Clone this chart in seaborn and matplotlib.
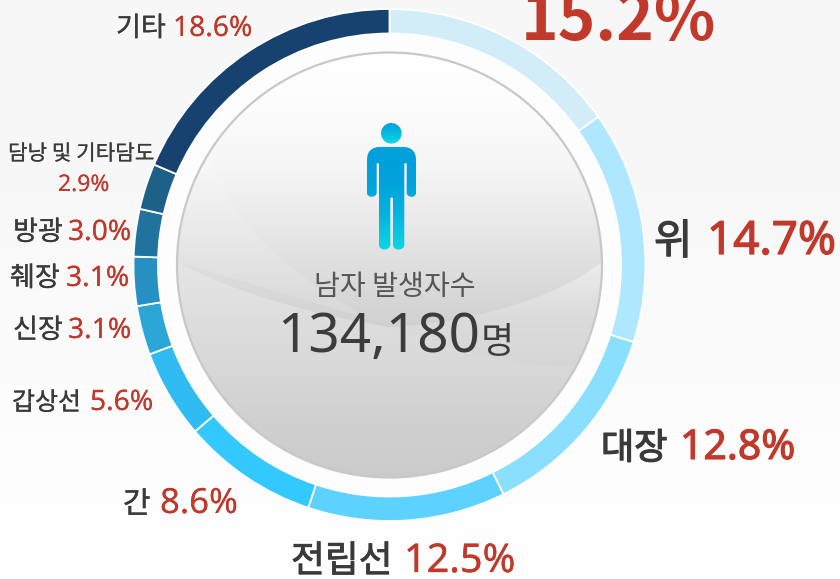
import numpy as np
import seaborn as sns
import matplotlib.pyplot as plt
import matplotlib.patheffects as pe
from matplotlib.patches import Circle, PathPatch
from matplotlib.path import Path

sns.set_theme(style="white")
plt.rcParams['font.family'] = ['Noto Sans CJK KR', 'DejaVu Sans']

# 남자 암 발생 비율 (12시 방향부터 시계 방향)
cancer_names = ['위암', '위', '대장', '전립선', '간', '갑상선', '신장', '췌장', '방광', '담낭 및 기타담도', '기타']
cancer_shares = [15.2, 14.7, 12.8, 12.5, 8.6, 5.6, 3.1, 3.1, 3.0, 2.9, 18.6]
ring_colors = ['#d2edf8', '#afe7fe', '#8adfff', '#5dd2fe', '#33c8fe', '#30bcf3',
               '#2ba6d6', '#2590c1', '#21739f', '#1d6088', '#17426f']
center_title = '남자 발생자수'
center_number = '134,180'
center_unit = '명'

H = 579
CX, CY = 389.5, H - 265
R_DISC = 212.5


def py(y):
    return H - y


def bezier(p0, p1, p2, p3, n=60):
    t = np.linspace(0, 1, n)[:, None]
    p0, p1, p2, p3 = [np.array([p[0], py(p[1])], dtype=float) for p in (p0, p1, p2, p3)]
    return (1 - t) ** 3 * p0 + 3 * (1 - t) ** 2 * t * p1 + 3 * (1 - t) * t ** 2 * p2 + t ** 3 * p3


def disc_arc(x0, y0, x1, y1, clockwise, n=80):
    # 원판 가장자리를 따라가는 점들
    a0 = np.arctan2(py(y0) - CY, x0 - CX)
    a1 = np.arctan2(py(y1) - CY, x1 - CX)
    if clockwise and a1 > a0:
        a1 -= 2 * np.pi
    if not clockwise and a1 < a0:
        a1 += 2 * np.pi
    a = np.linspace(a0, a1, n)
    return np.column_stack([CX + R_DISC * np.cos(a), CY + R_DISC * np.sin(a)])


fig = plt.figure(figsize=(8.4, 5.79), dpi=100)
ax = fig.add_axes([0, 0, 1, 1])
ax.set_axis_off()

# 배경
bg_cmap = sns.blend_palette(['#f7f7f7', '#f7f7f7', '#fafafa', '#fdfdfd', '#ffffff'], as_cmap=True)
ax.imshow(np.linspace(0, 1, 256).reshape(-1, 1), cmap=bg_cmap, extent=(0, 840, 0, H),
          aspect='auto', zorder=0)
ax.add_patch(Circle((CX, CY), 232, facecolor='#fdfdfd', edgecolor='none', zorder=1))

# 도넛 링
ax.pie(cancer_shares, colors=ring_colors, startangle=90, counterclock=False,
       center=(CX, CY), radius=256, frame=True,
       wedgeprops={'width': 24.5, 'edgecolor': 'white', 'linewidth': 1.3, 'zorder': 2})

# 가운데 원판 그라데이션
disc = Circle((CX, CY), R_DISC, facecolor='#cfcfcf', edgecolor='none', zorder=2.5)
ax.add_patch(disc)
disc_cmap = sns.blend_palette(['#ffffff', '#fcfcfc', '#f5f5f5', '#e8e8e8', '#dadada', '#cccccc'], as_cmap=True)
grad = ax.imshow(np.linspace(0, 1, 256).reshape(-1, 1), cmap=disc_cmap,
                 extent=(CX - 213, CX + 213, py(345), py(52)), aspect='auto', zorder=3)
grad.set_clip_path(disc)

# 왼쪽 위 밝은 호
left_pts = np.vstack([bezier((208, 150), (225, 215), (280, 270), (372, 320)),
                      disc_arc(177.5, 262, 208, 150, True)])
ax.add_patch(PathPatch(Path(np.vstack([left_pts, left_pts[:1]]), closed=True), facecolor='#ffffff',
                       alpha=0.12, edgecolor='none', zorder=3.1))


def layer(points, colors, z):
    # 곡선 아래쪽 면을 세로 그라데이션으로 채운다
    patch = PathPatch(Path(np.vstack([points, points[:1]]), closed=True), facecolor='none', edgecolor='none')
    ax.add_patch(patch)
    im = ax.imshow(np.linspace(0, 1, 256).reshape(-1, 1), cmap=sns.blend_palette(colors, as_cmap=True),
                   extent=(CX - 213, CX + 213, py(478), py(262)), aspect='auto', zorder=z)
    im.set_clip_path(patch)


right_pts = np.vstack([bezier((602, 262), (560, 295), (480, 322), (390, 327)),
                       [[370, py(330)], [370, py(470)]],
                       disc_arc(389.5, 477.5, 602, 262, False)])
layer(right_pts, ['#ececec', '#dcdcdc', '#d5d5d5', '#d0d0d0', '#cccccc'], 3.2)

lower_pts = np.vstack([bezier((177.5, 262), (240, 297), (340, 320), (390, 327)),
                       bezier((390, 327), (425, 333), (500, 372), (577, 365)),
                       disc_arc(577, 365, 177.5, 262, True)])
layer(lower_pts, ['#e6e6e6', '#dedede', '#d8d8d8', '#d0d0d0', '#cbcbcb'], 3.3)

ax.add_patch(Circle((CX, CY), R_DISC, facecolor='none', edgecolor='#c8c8c8', linewidth=1.6, zorder=4))

# 사람 아이콘
head_patch = Circle((391.3, py(133.3)), 10.3, facecolor='none', edgecolor='none')
ax.add_patch(head_patch)
head = ax.imshow(np.linspace(0, 1, 64).reshape(-1, 1),
                 cmap=sns.blend_palette(['#00a0dc', '#0fd8e4'], as_cmap=True),
                 extent=(380, 402, py(144), py(123)), aspect='auto', zorder=5)
head.set_clip_path(head_patch)

body = Path([(367, py(160)), (367, py(150)), (373, py(147)), (381, py(146.7)),
             (402, py(146.7)), (410, py(147)), (416, py(150)), (416, py(160)),
             (416, py(193)), (416, py(198)), (407, py(198)), (406.7, py(193)),
             (406.7, py(163.3)), (404.3, py(163.3)), (404.3, py(245)), (404, py(251)), (393, py(251)), (393, py(245)),
             (393, py(197.7)), (390.3, py(197.7)), (390.3, py(245)), (390, py(251)), (379, py(251)), (379, py(245)),
             (379, py(163.3)), (376.7, py(163.3)), (376.7, py(193)), (376, py(198)), (367, py(198)), (367, py(193)),
             (367, py(160))],
            [Path.MOVETO, Path.CURVE4, Path.CURVE4, Path.CURVE4,
             Path.LINETO, Path.CURVE4, Path.CURVE4, Path.CURVE4,
             Path.LINETO, Path.CURVE4, Path.CURVE4, Path.CURVE4,
             Path.LINETO, Path.LINETO, Path.LINETO, Path.CURVE4, Path.CURVE4, Path.CURVE4,
             Path.LINETO, Path.LINETO, Path.LINETO, Path.CURVE4, Path.CURVE4, Path.CURVE4,
             Path.LINETO, Path.LINETO, Path.LINETO, Path.CURVE4, Path.CURVE4, Path.CURVE4,
             Path.LINETO])
body_patch = PathPatch(body, facecolor='none', edgecolor='none')
ax.add_patch(body_patch)
icon = ax.imshow(np.linspace(0, 1, 128).reshape(-1, 1),
                 cmap=sns.blend_palette(['#00a0dc', '#00a2dc', '#06b4de', '#0ed6e2'], as_cmap=True),
                 extent=(360, 420, py(250), py(147)), aspect='auto', zorder=5)
icon.set_clip_path(body_patch)

# 가운데 글자
ax.text(394.5, py(295), center_title, fontsize=20.3, color='#555555', ha='center', va='baseline', zorder=6)
ax.text(378.5, py(352), center_number, fontsize=39.5, color='#3c3c3c', ha='center', va='baseline', zorder=6,
        family='Noto Sans')
ax.text(497, py(353), center_unit, fontsize=26, color='#3c3c3c', ha='center', va='baseline', zorder=6)

# 라벨: 이름과 퍼센트를 따로 배치 (마지막 값은 글자 두께 보정)
NAME_C, PCT_C = '#3a3a3a', '#c0392b'
name_labels = [(654, 254, cancer_names[1], 30, 0.9),
               (601, 459, cancer_names[2], 26, 0.9),
               (291, 572, cancer_names[3], 26.5, 0.6),
               (123, 513, cancer_names[4], 21.5, 0.3),
               (12, 410, cancer_names[5], 18, 0.2),
               (13, 338, cancer_names[6], 19.5, 0.2),
               (10, 286, cancer_names[7], 19.5, 0.2),
               (13, 240, cancer_names[8], 19.5, 0.2),
               (8, 160, cancer_names[9], 15.3, 0.1),
               (116, 36, cancer_names[10], 19.5, 0.2)]
pct_labels = [(707, 254, cancer_shares[1], 33, 0.9),
              (680, 459, cancer_shares[2], 29.5, 0.8),
              (404, 572, cancer_shares[3], 28.5, 0.2),
              (160, 513, cancer_shares[4], 25, 0),
              (90, 410, cancer_shares[5], 20.3, 0),
              (68, 338, cancer_shares[6], 20.3, 0),
              (66, 286, cancer_shares[7], 20.3, 0),
              (68, 240, cancer_shares[8], 20.3, 0),
              (58, 191, cancer_shares[9], 16.5, 0),
              (173, 36, cancer_shares[10], 20.3, 0)]
for x, y, name, fs, lw in name_labels:
    t = ax.text(x, py(y), name, fontsize=fs, color=NAME_C, ha='left', va='baseline', zorder=6)
    t.set_path_effects([pe.withStroke(linewidth=lw, foreground=NAME_C)])
for x, y, val, fs, lw in pct_labels:
    t = ax.text(x, py(y), f'{val:.1f}%', fontsize=fs, color=PCT_C, ha='left', va='baseline',
                zorder=6, family='Noto Sans')
    t.set_path_effects([pe.withStroke(linewidth=lw, foreground=PCT_C)])

# 위쪽이 잘린 15.2%
ax.text(521, py(40), f'{cancer_shares[0]:.1f}%', fontsize=46, fontweight='bold', color=PCT_C,
        ha='left', va='baseline', zorder=6)

ax.set_xlim(0, 840)
ax.set_ylim(0, H)
ax.set_aspect('auto')
ax.set_axis_off()
fig.savefig('out.png', dpi=100)
